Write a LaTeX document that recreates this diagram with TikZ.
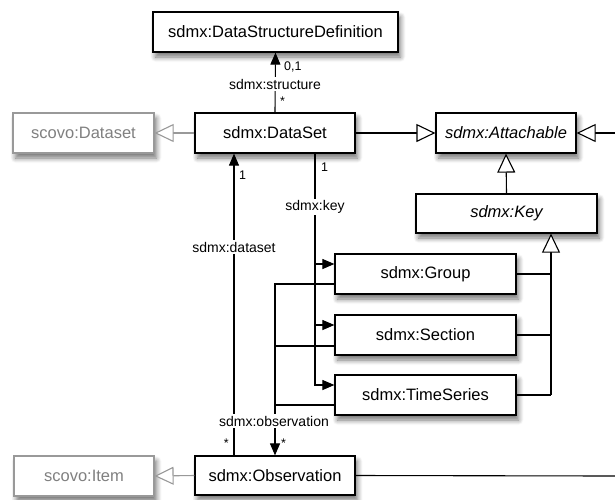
\documentclass[tikz,border=0pt]{standalone}
\usepackage{fontspec}
\setmainfont{Liberation Sans}
\usetikzlibrary{arrows.meta,shadows.blur}
\begin{document}
\begin{tikzpicture}[x=1pt,y=-1pt,
  cls/.style={draw=black, line width=1.2pt, fill=white, minimum height=40pt, inner sep=0pt,
    font=\fontsize{16.5}{18}\selectfont,
    blur shadow={shadow xshift=2.5pt, shadow yshift=-5pt, shadow blur radius=5pt, shadow blur steps=8, shadow opacity=55}},
  ext/.style={cls, draw=black!40, text=black!50},
  lbl/.style={fill=white, inner sep=1.5pt, font=\fontsize{14}{16}\selectfont},
  mult/.style={inner sep=0pt, font=\fontsize{12.5}{14}\selectfont},
  conn/.style={line width=1.1pt},
  assoc/.style={conn, -{Triangle[length=12pt,width=10pt]}},
  inh/.style={conn, -{Triangle[open,length=19pt,width=18pt,fill=white]}},
  ginh/.style={inh, draw=black!40},
]
\useasboundingbox (0,0) rectangle (615,499);

% class boxes
\node[cls, minimum width=245pt] (dsd) at (275.5,32) {sdmx:DataStructureDefinition};
\node[ext, minimum width=141pt] (scds) at (83.5,133) {scovo:Dataset};
\node[cls, minimum width=160pt] (ds) at (275,133) {sdmx:DataSet};
\node[cls, minimum width=140pt] (att) at (506,133) {\itshape sdmx:Attachable};
\node[cls, minimum width=181pt, minimum height=39pt] (key) at (506.5,213.5) {\itshape sdmx:Key};
\node[cls, minimum width=181pt] (grp) at (425.5,274) {sdmx:Group};
\node[cls, minimum width=181pt] (sec) at (425.5,335) {sdmx:Section};
\node[cls, minimum width=181pt] (ts) at (425.5,395) {sdmx:TimeSeries};
\node[cls, minimum width=160pt, minimum height=39pt] (obs) at (275,475.5) {sdmx:Observation};
\node[ext, minimum width=140pt] (item) at (84,476) {scovo:Item};

% free ends and routing points
\coordinate (rA) at (615,133);
\coordinate (rO) at (615,476);
\coordinate (kx) at (315,0);
\coordinate (dx) at (234,0);
\coordinate (trunk) at (551,0);

% structure
\draw[assoc] (ds.north) -- (dsd.south);
\node[mult, anchor=west] (m01) at (284,67) {0,1};
\node[lbl] (lstruct) at (275,84) {sdmx:structure};
\node[mult, anchor=west] (mstar1) at (280,101) {*};

% generalisations
\draw[ginh] (ds.west) -- (scds.east);
\draw[ginh] (obs.west) -- (item.east);
\draw[inh] (ds.east) -- (att.west);
\draw[inh] (rA) -- (att.east);
\draw[inh] (key.north) -- (att.south);
\draw[conn] (grp.east) -- (grp.east -| trunk);
\draw[conn] (sec.east) -- (sec.east -| trunk);
\draw[conn] (ts.east) -- (ts.east -| trunk);
\draw[inh] (ts.east -| trunk) -- (key.south -| trunk);

% sdmx:key
\draw[assoc] (ds.south -| kx) -- ([yshift=10pt]ts.west -| kx) -- ([yshift=10pt]ts.west);
\draw[assoc] ([yshift=10pt]grp.west -| kx) -- ([yshift=10pt]grp.west);
\draw[assoc] ([yshift=10pt]sec.west -| kx) -- ([yshift=10pt]sec.west);
\node[mult, anchor=west] (mk1) at (321,167) {1};
\node[lbl] (lkey) at (315,207) {sdmx:key};

% sdmx:dataset
\draw[assoc] (obs.north -| dx) -- (ds.south -| dx);
\node[mult, anchor=west] (md1) at (239,175) {1};
\node[lbl] (ldataset) at (234,247) {sdmx:dataset};
\node[mult, anchor=east] (mdstar) at (229,443) {*};

% sdmx:observation
\draw[assoc] ([yshift=-10pt]grp.west) -| (obs.north);
\draw[conn] ([yshift=-11pt]sec.west) -- ([yshift=-11pt]sec.west -| obs.north);
\draw[conn] ([yshift=-10pt]ts.west) -- ([yshift=-10pt]ts.west -| obs.north);
\node[lbl] (lobs) at (274,421) {sdmx:observation};
\node[mult, anchor=west] (mostar) at (281,443) {*};

% observation to the right
\draw[conn] (obs.east) -- (rO);
\end{tikzpicture}
\end{document}
